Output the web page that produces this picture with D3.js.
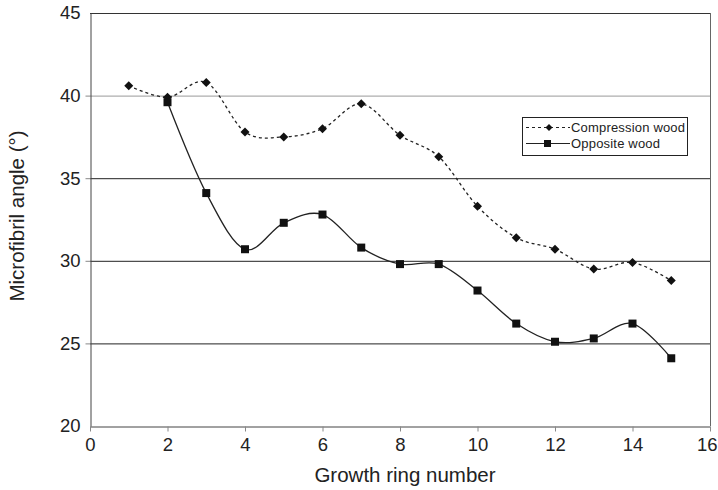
<!DOCTYPE html>
<html><head><meta charset="utf-8">
<script src="https://cdn.jsdelivr.net/npm/d3@7/dist/d3.min.js"></script>
<style>body{margin:0;background:#fff}svg{display:block}text{font-family:"Liberation Sans",Arial,sans-serif;fill:#222}</style>
</head><body>
<svg id="c" width="718" height="490"></svg>
<script>
const rings = [1,2,3,4,5,6,7,8,9,10,11,12,13,14,15];
const compression = [40.6,39.9,40.8,37.8,37.5,38.0,39.5,37.6,36.3,33.3,31.4,30.7,29.5,29.9,28.8];
const oppositeRings = [2,3,4,5,6,7,8,9,10,11,12,13,14,15];
const opposite = [39.6,34.1,30.7,32.3,32.8,30.8,29.8,29.8,28.2,26.2,25.1,25.3,26.2,24.1];
const xTicks = [0,2,4,6,8,10,12,14,16];
const yTicks = [20,25,30,35,40,45];

const svg = d3.select("#c");
const L=90,R=710,T=13,B=426;
const x = d3.scaleLinear().domain([0,16]).range([L,R]);
const y = d3.scaleLinear().domain([20,45]).range([B,T]);

svg.append("g").selectAll("line").data([25,30,35,40]).join("line")
  .attr("x1",L).attr("x2",R).attr("y1",d=>y(d)+0.5).attr("y2",d=>y(d)+0.5)
  .attr("stroke",d=>d===40?"#999":"#222").attr("stroke-width",1);
svg.append("line").attr("x1",L).attr("x2",R).attr("y1",T+0.5).attr("y2",T+0.5).attr("stroke","#333");
svg.append("line").attr("x1",R+0.5).attr("x2",R+0.5).attr("y1",T).attr("y2",B).attr("stroke","#666");

const xa = svg.append("g").attr("transform",`translate(0,${B+0.5})`)
  .call(d3.axisBottom(x).tickValues(xTicks).tickSize(5).tickSizeOuter(0).tickPadding(6));
const ya = svg.append("g").attr("transform",`translate(${L+0.5},0)`)
  .call(d3.axisLeft(y).tickValues(yTicks).tickSize(5).tickSizeOuter(0).tickPadding(5));
[xa,ya].forEach(a=>{
  a.select(".domain").attr("stroke","#444");
  a.selectAll(".tick line").attr("stroke","#888");
  a.selectAll(".tick text").attr("font-size",18.5).attr("fill","#222").attr("font-family","Liberation Sans, Arial, sans-serif");
});
ya.selectAll(".tick line").filter(d=>d===20||d===45).remove();
xa.selectAll(".tick text").filter(d=>d===16).attr("text-anchor","end").attr("dx",7);

svg.append("text").attr("x",405).attr("y",482).attr("text-anchor","middle").attr("font-size",20.5).text("Growth ring number");
svg.append("text").attr("transform",`translate(24,216) rotate(-90)`).attr("text-anchor","middle").attr("font-size",20.5).text("Microfibril angle (°)");

const line = d3.line().curve(d3.curveCatmullRom.alpha(0)).x(d=>x(d[0])).y(d=>y(d[1]));
const cData = rings.map((r,i)=>[r,compression[i]]);
const oData = oppositeRings.map((r,i)=>[r,opposite[i]]);

svg.append("path").attr("d",line(cData)).attr("fill","none").attr("stroke","#222").attr("stroke-width",1.3).attr("stroke-dasharray","3,3");
svg.append("path").attr("d",line(oData)).attr("fill","none").attr("stroke","#222").attr("stroke-width",1.3);

const diamond = "M0,-4.5L4.5,0L0,4.5L-4.5,0Z";
svg.append("g").selectAll("path").data(cData).join("path")
  .attr("transform",d=>`translate(${x(d[0])},${y(d[1])})`).attr("d",diamond).attr("fill","#111");
svg.append("g").selectAll("rect").data(oData).join("rect")
  .attr("x",d=>x(d[0])-4).attr("y",d=>y(d[1])-4).attr("width",8).attr("height",8).attr("fill","#111");

const lg = svg.append("g");
lg.append("rect").attr("x",522.5).attr("y",117.5).attr("width",165).attr("height",38).attr("fill","#fff").attr("stroke","#222");
lg.append("line").attr("x1",526).attr("x2",570).attr("y1",127.5).attr("y2",127.5).attr("stroke","#222").attr("stroke-dasharray","3,3");
lg.append("path").attr("transform","translate(549,127.5)").attr("d","M0,-3.5L3.5,0L0,3.5L-3.5,0Z").attr("fill","#111");
lg.append("line").attr("x1",526).attr("x2",570).attr("y1",143.5).attr("y2",143.5).attr("stroke","#222");
lg.append("rect").attr("x",544).attr("y",140).attr("width",7).attr("height",7).attr("fill","#111");
lg.append("text").attr("x",571).attr("y",132).attr("font-size",13).attr("textLength",114).text("Compression wood");
lg.append("text").attr("x",571).attr("y",148).attr("font-size",13).attr("textLength",89).text("Opposite wood");
</script>
</body></html>
